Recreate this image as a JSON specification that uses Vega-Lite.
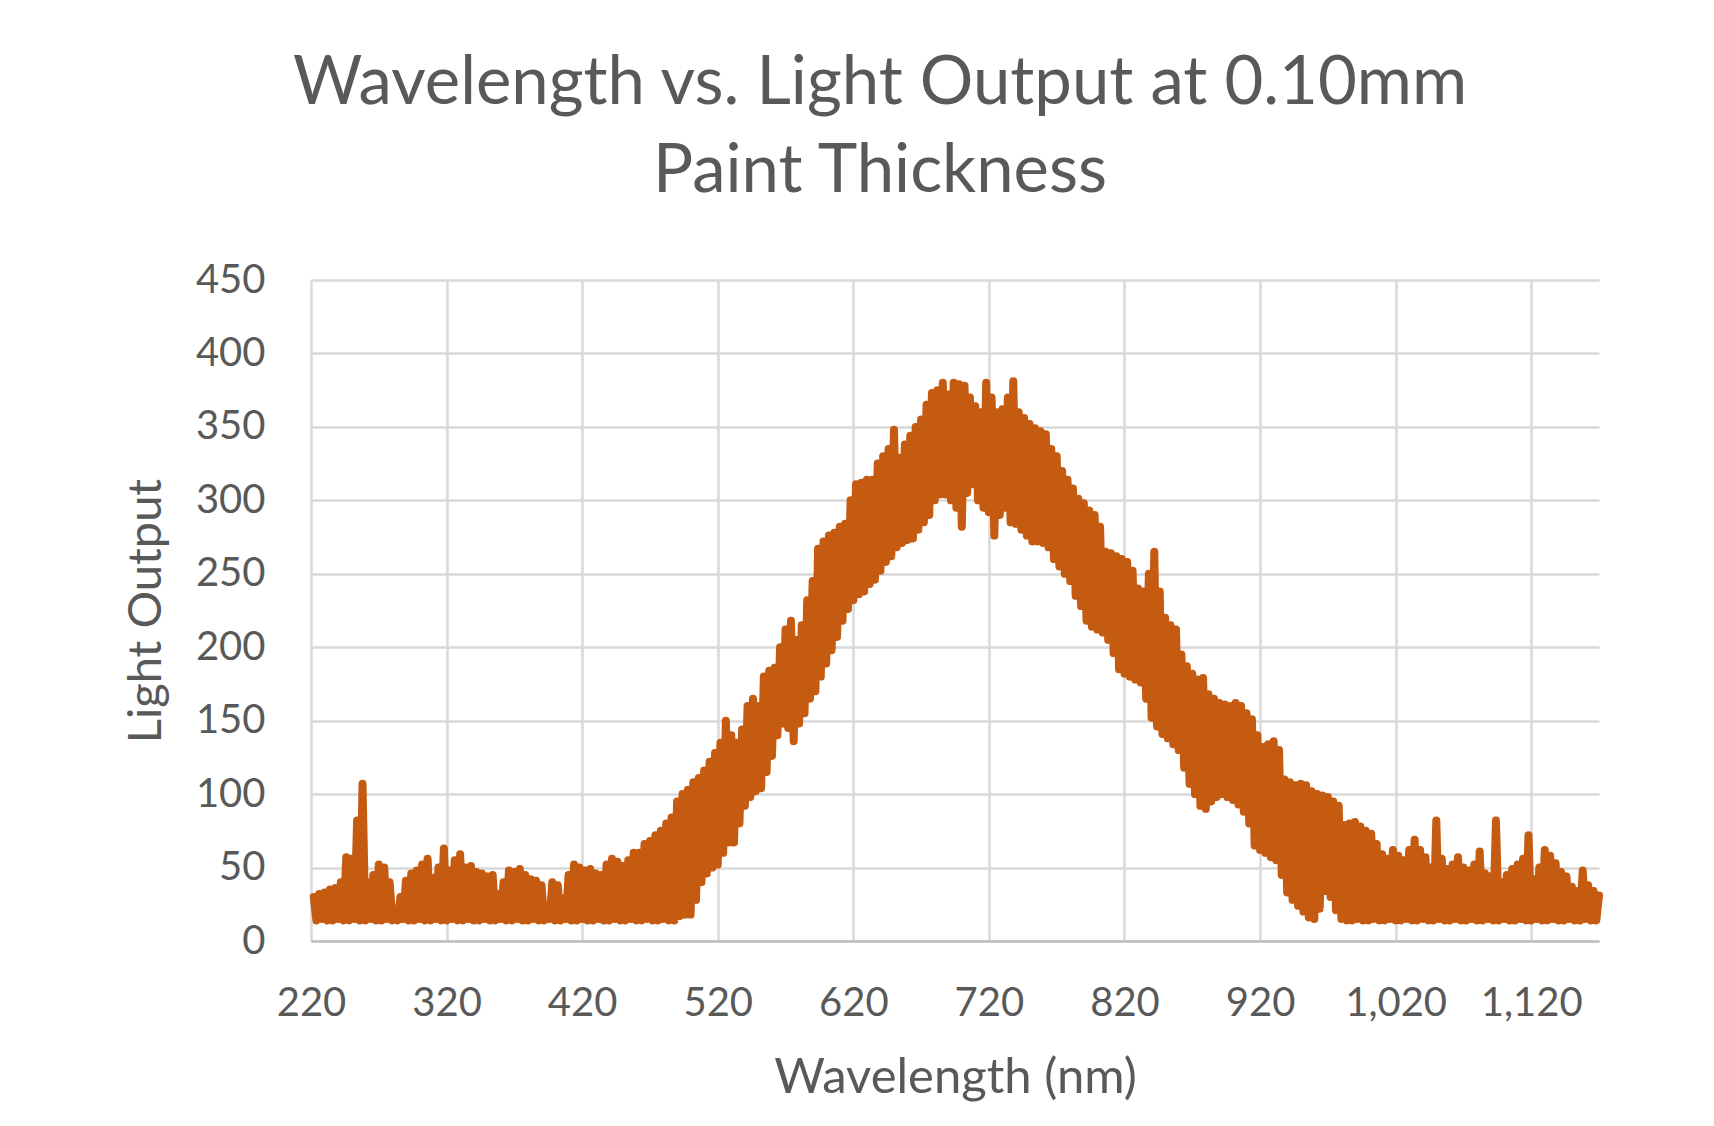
{
"$schema": "https://vega.github.io/schema/vega-lite/v6.json",
"width": 1288, "height": 661,
"autosize": {"type": "none"},
"padding": {"left": 311, "top": 280, "right": 115, "bottom": 185},
"background": "white",
"title": {"text": ["Wavelength vs. Light Output at 0.10mm", "Paint Thickness"], "font": "Lato", "fontSize": 67, "fontWeight": "normal", "color": "#595959", "lineHeight": 88, "anchor": "middle", "dx": -75, "offset": 54},
"config": {"view": {"stroke": null}, "font": "Lato",
 "axis": {"labelFont": "Lato", "titleFont": "Lato", "labelColor": "#595959", "titleColor": "#595959", "titleFontWeight": "normal", "gridColor": "#d9d9d9", "gridWidth": 2.5, "ticks": false, "tickSize": 0, "labelFontSize": 40}},
"data": {"values": [
{"w":222,"v":30},{"w":224,"v":14},{"w":226,"v":32},{"w":228,"v":15},{"w":230,"v":33},{"w":232,"v":14},{"w":234,"v":35},{"w":236,"v":14},{"w":238,"v":36},{"w":240,"v":15},
{"w":242,"v":40},{"w":244,"v":14},{"w":246,"v":57},{"w":248,"v":14},{"w":250,"v":56},{"w":252,"v":15},{"w":254,"v":82},{"w":256,"v":14},{"w":258,"v":107},{"w":260,"v":14},
{"w":262,"v":40},{"w":264,"v":15},{"w":266,"v":45},{"w":268,"v":14},{"w":270,"v":52},{"w":272,"v":14},{"w":274,"v":50},{"w":276,"v":15},{"w":278,"v":40},{"w":280,"v":14},
{"w":282,"v":22},{"w":284,"v":14},{"w":286,"v":30},{"w":288,"v":15},{"w":290,"v":41},{"w":292,"v":14},{"w":294,"v":46},{"w":296,"v":14},{"w":298,"v":48},{"w":300,"v":15},
{"w":302,"v":52},{"w":304,"v":14},{"w":306,"v":56},{"w":308,"v":14},{"w":310,"v":43},{"w":312,"v":15},{"w":314,"v":50},{"w":316,"v":14},{"w":318,"v":63},{"w":320,"v":14},
{"w":322,"v":48},{"w":324,"v":15},{"w":326,"v":55},{"w":328,"v":14},{"w":330,"v":59},{"w":332,"v":14},{"w":334,"v":50},{"w":336,"v":15},{"w":338,"v":51},{"w":340,"v":14},
{"w":342,"v":47},{"w":344,"v":14},{"w":346,"v":46},{"w":348,"v":15},{"w":350,"v":44},{"w":352,"v":14},{"w":354,"v":45},{"w":356,"v":14},{"w":358,"v":32},{"w":360,"v":15},
{"w":362,"v":40},{"w":364,"v":14},{"w":366,"v":48},{"w":368,"v":14},{"w":370,"v":47},{"w":372,"v":15},{"w":374,"v":49},{"w":376,"v":14},{"w":378,"v":45},{"w":380,"v":14},
{"w":382,"v":42},{"w":384,"v":15},{"w":386,"v":41},{"w":388,"v":14},{"w":390,"v":38},{"w":392,"v":14},{"w":394,"v":22},{"w":396,"v":15},{"w":398,"v":40},{"w":400,"v":14},
{"w":402,"v":38},{"w":404,"v":14},{"w":406,"v":29},{"w":408,"v":15},{"w":410,"v":45},{"w":412,"v":14},{"w":414,"v":52},{"w":416,"v":14},{"w":418,"v":50},{"w":420,"v":15},
{"w":422,"v":48},{"w":424,"v":14},{"w":426,"v":49},{"w":428,"v":14},{"w":430,"v":46},{"w":432,"v":15},{"w":434,"v":45},{"w":436,"v":14},{"w":438,"v":52},{"w":440,"v":14},
{"w":442,"v":56},{"w":444,"v":15},{"w":446,"v":54},{"w":448,"v":14},{"w":450,"v":51},{"w":452,"v":14},{"w":454,"v":55},{"w":456,"v":15},{"w":458,"v":60},{"w":460,"v":14},
{"w":462,"v":60},{"w":464,"v":14},{"w":466,"v":66},{"w":468,"v":15},{"w":470,"v":68},{"w":472,"v":14},{"w":474,"v":72},{"w":476,"v":14},{"w":478,"v":75},{"w":480,"v":15},
{"w":482,"v":80},{"w":484,"v":14},{"w":486,"v":84},{"w":488,"v":14},{"w":490,"v":95},{"w":492,"v":17},{"w":494,"v":100},{"w":496,"v":18},{"w":498,"v":103},{"w":500,"v":18},
{"w":502,"v":108},{"w":504,"v":28},{"w":506,"v":111},{"w":508,"v":40},{"w":510,"v":116},{"w":512,"v":46},{"w":514,"v":122},{"w":516,"v":50},{"w":518,"v":128},{"w":520,"v":52},
{"w":522,"v":135},{"w":524,"v":60},{"w":526,"v":150},{"w":528,"v":67},{"w":530,"v":140},{"w":532,"v":67},{"w":534,"v":135},{"w":536,"v":80},{"w":538,"v":144},{"w":540,"v":92},
{"w":542,"v":160},{"w":544,"v":98},{"w":546,"v":165},{"w":548,"v":102},{"w":550,"v":160},{"w":552,"v":104},{"w":554,"v":180},{"w":556,"v":115},{"w":558,"v":184},{"w":560,"v":126},
{"w":562,"v":186},{"w":564,"v":140},{"w":566,"v":200},{"w":568,"v":148},{"w":570,"v":212},{"w":572,"v":145},{"w":574,"v":218},{"w":576,"v":136},{"w":578,"v":205},{"w":580,"v":148},
{"w":582,"v":215},{"w":584,"v":155},{"w":586,"v":232},{"w":588,"v":165},{"w":590,"v":245},{"w":592,"v":170},{"w":594,"v":267},{"w":596,"v":180},{"w":598,"v":272},{"w":600,"v":189},
{"w":602,"v":276},{"w":604,"v":198},{"w":606,"v":278},{"w":608,"v":207},{"w":610,"v":282},{"w":612,"v":218},{"w":614,"v":284},{"w":616,"v":226},{"w":618,"v":300},{"w":620,"v":232},
{"w":622,"v":311},{"w":624,"v":236},{"w":626,"v":312},{"w":628,"v":238},{"w":630,"v":314},{"w":632,"v":243},{"w":634,"v":314},{"w":636,"v":246},{"w":638,"v":325},{"w":640,"v":252},
{"w":642,"v":330},{"w":644,"v":258},{"w":646,"v":335},{"w":648,"v":262},{"w":650,"v":348},{"w":652,"v":268},{"w":654,"v":329},{"w":656,"v":271},{"w":658,"v":338},{"w":660,"v":273},
{"w":662,"v":344},{"w":664,"v":274},{"w":666,"v":350},{"w":668,"v":280},{"w":670,"v":355},{"w":672,"v":285},{"w":674,"v":365},{"w":676,"v":290},{"w":678,"v":373},{"w":680,"v":300},
{"w":682,"v":375},{"w":684,"v":304},{"w":686,"v":380},{"w":688,"v":304},{"w":690,"v":372},{"w":692,"v":300},{"w":694,"v":380},{"w":696,"v":295},{"w":698,"v":379},{"w":700,"v":282},
{"w":702,"v":378},{"w":704,"v":305},{"w":706,"v":370},{"w":708,"v":311},{"w":710,"v":364},{"w":712,"v":300},{"w":714,"v":360},{"w":716,"v":295},{"w":718,"v":380},{"w":720,"v":292},
{"w":722,"v":370},{"w":724,"v":276},{"w":726,"v":360},{"w":728,"v":290},{"w":730,"v":362},{"w":732,"v":295},{"w":734,"v":370},{"w":736,"v":285},{"w":738,"v":381},{"w":740,"v":284},
{"w":742,"v":360},{"w":744,"v":280},{"w":746,"v":356},{"w":748,"v":276},{"w":750,"v":352},{"w":752,"v":272},{"w":754,"v":349},{"w":756,"v":272},{"w":758,"v":347},{"w":760,"v":271},
{"w":762,"v":345},{"w":764,"v":268},{"w":766,"v":335},{"w":768,"v":260},{"w":770,"v":330},{"w":772,"v":255},{"w":774,"v":320},{"w":776,"v":250},{"w":778,"v":314},{"w":780,"v":245},
{"w":782,"v":308},{"w":784,"v":235},{"w":786,"v":301},{"w":788,"v":228},{"w":790,"v":298},{"w":792,"v":218},{"w":794,"v":293},{"w":796,"v":214},{"w":798,"v":290},{"w":800,"v":212},
{"w":802,"v":282},{"w":804,"v":210},{"w":806,"v":265},{"w":808,"v":205},{"w":810,"v":264},{"w":812,"v":196},{"w":814,"v":262},{"w":816,"v":185},{"w":818,"v":260},{"w":820,"v":182},
{"w":822,"v":258},{"w":824,"v":180},{"w":826,"v":252},{"w":828,"v":178},{"w":830,"v":240},{"w":832,"v":176},{"w":834,"v":238},{"w":836,"v":165},{"w":838,"v":250},{"w":840,"v":152},
{"w":842,"v":265},{"w":844,"v":146},{"w":846,"v":238},{"w":848,"v":141},{"w":850,"v":220},{"w":852,"v":138},{"w":854,"v":215},{"w":856,"v":134},{"w":858,"v":212},{"w":860,"v":130},
{"w":862,"v":195},{"w":864,"v":118},{"w":866,"v":187},{"w":868,"v":107},{"w":870,"v":182},{"w":872,"v":100},{"w":874,"v":178},{"w":876,"v":92},{"w":878,"v":179},{"w":880,"v":90},
{"w":882,"v":168},{"w":884,"v":95},{"w":886,"v":165},{"w":888,"v":98},{"w":890,"v":162},{"w":892,"v":100},{"w":894,"v":161},{"w":896,"v":98},{"w":898,"v":160},{"w":900,"v":96},
{"w":902,"v":162},{"w":904,"v":93},{"w":906,"v":160},{"w":908,"v":88},{"w":910,"v":155},{"w":912,"v":80},{"w":914,"v":151},{"w":916,"v":65},{"w":918,"v":140},{"w":920,"v":62},
{"w":922,"v":132},{"w":924,"v":60},{"w":926,"v":134},{"w":928,"v":57},{"w":930,"v":136},{"w":932,"v":55},{"w":934,"v":130},{"w":936,"v":45},{"w":938,"v":110},{"w":940,"v":33},
{"w":942,"v":108},{"w":944,"v":28},{"w":946,"v":106},{"w":948,"v":24},{"w":950,"v":107},{"w":952,"v":20},{"w":954,"v":106},{"w":956,"v":16},{"w":958,"v":102},{"w":960,"v":15},
{"w":962,"v":100},{"w":964,"v":22},{"w":966,"v":99},{"w":968,"v":34},{"w":970,"v":98},{"w":972,"v":30},{"w":974,"v":95},{"w":976,"v":21},{"w":978,"v":92},{"w":980,"v":15},
{"w":982,"v":79},{"w":984,"v":14},{"w":986,"v":80},{"w":988,"v":14},{"w":990,"v":81},{"w":992,"v":15},{"w":994,"v":78},{"w":996,"v":14},{"w":998,"v":75},{"w":1000,"v":14},
{"w":1002,"v":73},{"w":1004,"v":15},{"w":1006,"v":66},{"w":1008,"v":14},{"w":1010,"v":59},{"w":1012,"v":14},{"w":1014,"v":56},{"w":1016,"v":15},{"w":1018,"v":62},{"w":1020,"v":14},
{"w":1022,"v":58},{"w":1024,"v":14},{"w":1026,"v":55},{"w":1028,"v":15},{"w":1030,"v":62},{"w":1032,"v":14},{"w":1034,"v":69},{"w":1036,"v":14},{"w":1038,"v":62},{"w":1040,"v":15},
{"w":1042,"v":57},{"w":1044,"v":14},{"w":1046,"v":50},{"w":1048,"v":14},{"w":1050,"v":82},{"w":1052,"v":15},{"w":1054,"v":56},{"w":1056,"v":14},{"w":1058,"v":49},{"w":1060,"v":14},
{"w":1062,"v":52},{"w":1064,"v":15},{"w":1066,"v":57},{"w":1068,"v":14},{"w":1070,"v":50},{"w":1072,"v":14},{"w":1074,"v":48},{"w":1076,"v":15},{"w":1078,"v":52},{"w":1080,"v":14},
{"w":1082,"v":61},{"w":1084,"v":14},{"w":1086,"v":46},{"w":1088,"v":15},{"w":1090,"v":44},{"w":1092,"v":14},{"w":1094,"v":82},{"w":1096,"v":14},{"w":1098,"v":40},{"w":1100,"v":15},
{"w":1102,"v":45},{"w":1104,"v":14},{"w":1106,"v":49},{"w":1108,"v":14},{"w":1110,"v":52},{"w":1112,"v":15},{"w":1114,"v":56},{"w":1116,"v":14},{"w":1118,"v":72},{"w":1120,"v":14},
{"w":1122,"v":42},{"w":1124,"v":15},{"w":1126,"v":50},{"w":1128,"v":14},{"w":1130,"v":62},{"w":1132,"v":14},{"w":1134,"v":58},{"w":1136,"v":15},{"w":1138,"v":53},{"w":1140,"v":14},
{"w":1142,"v":47},{"w":1144,"v":14},{"w":1146,"v":44},{"w":1148,"v":15},{"w":1150,"v":37},{"w":1152,"v":14},{"w":1154,"v":34},{"w":1156,"v":14},{"w":1158,"v":48},{"w":1160,"v":15},
{"w":1162,"v":38},{"w":1164,"v":14},{"w":1166,"v":34},{"w":1168,"v":14},{"w":1170,"v":31}
]},
"mark": {"type": "line", "color": "#c55a11", "strokeWidth": 8, "strokeJoin": "round", "strokeCap": "round"},
"encoding": {
 "x": {"field": "w", "type": "quantitative", "scale": {"domain": [220, 1170], "nice": false, "zero": false},
  "axis": {"values": [220, 320, 420, 520, 620, 720, 820, 920, 1020, 1120], "format": ",d", "title": "Wavelength (nm)", "titleFontSize": 49, "labelPadding": 42, "titlePadding": 30, "domainColor": "#bfbfbf", "domainWidth": 2.5, "labelFlush": false}},
 "y": {"field": "v", "type": "quantitative", "scale": {"domain": [0, 450], "nice": false},
  "axis": {"values": [0, 50, 100, 150, 200, 250, 300, 350, 400, 450], "title": "Light Output", "titleFontSize": 47, "labelPadding": 46, "titlePadding": 25, "domain": false}}
}
}
